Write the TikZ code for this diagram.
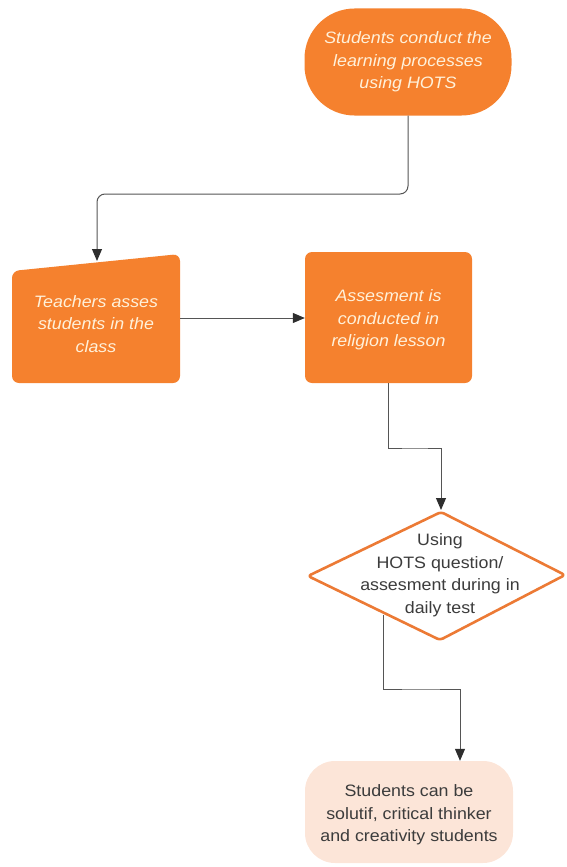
\documentclass[tikz,border=0pt]{standalone}
\usepackage{fontspec}
\setmainfont{Liberation Sans}[FakeStretch=1.08]
\usetikzlibrary{arrows.meta}
\definecolor{orng}{HTML}{F5812E}
\definecolor{dorng}{HTML}{EC7A35}
\definecolor{txtw}{HTML}{FFF1DA}
\definecolor{peach}{HTML}{FCE5D8}
\definecolor{dgray}{HTML}{3C3C3C}
\definecolor{lnk}{HTML}{555555}
\definecolor{tipc}{HTML}{2E2E2E}
\newcommand{\fs}{\fontsize{16.5}{22.5}\selectfont}
\begin{document}
\begin{tikzpicture}[x=1pt,y=-1pt,
  orangebox/.style={fill=orng, draw=none, text=txtw, font=\fs\itshape, align=center, inner sep=0pt},
  orangetext/.style={text=txtw, font=\fs\itshape, align=center, inner sep=0pt},
  darktext/.style={text=dgray, font=\fs, align=center, inner sep=0pt},
  arr/.style={draw=lnk, line width=1pt, -{Triangle[width=10pt,length=12pt,fill=tipc,color=tipc]}}]
\useasboundingbox (0,0) rectangle (567,867);
% start terminator
\node[orangebox, rounded corners=50pt, minimum width=207pt, minimum height=107pt] (start) at (408,62) {Students conduct the\\learning processes\\using HOTS};
% manual input shape
\fill[orng, rounded corners=7pt] (12,271) -- (180,254) -- (180,383) -- (12,383) -- cycle;
\node[orangetext] (teach) at (96,324) {Teachers asses\\students in the\\class};
\coordinate (teachtop) at (97,261);
\coordinate (teachright) at (180,318);
% process box
\node[orangebox, rounded corners=7pt, minimum width=167pt, minimum height=131pt] (assess) at (388.5,317.5) {};
\node[orangetext] (assesstext) at (388.5,320) {Assesment is\\conducted in\\religion lesson};
% decision diamond
\draw[draw=dorng, line width=2.6pt, fill=white, line join=round, rounded corners=3pt] (308,576) -- (441,512) -- (565,575) -- (440,640) -- cycle;
\node[darktext] (decide) at (440,575) {Using\\HOTS question/\\assesment during in\\daily test};
\coordinate (dtop) at (441,510);
\coordinate (dout) at (383,615);
% end terminator
\node[fill=peach, rounded corners=30pt, minimum width=208pt, minimum height=102pt, inner sep=0pt] (final) at (409,812) {};
\node[darktext] (finaltext) at (409,815) {Students can be\\solutif, critical thinker\\and creativity students};
% connectors
\draw[arr, rounded corners=8pt] (start.south) |- (250,194) -| (teachtop);
\draw[arr] (teachright) -- (assess.west |- teachright);
\draw[arr] (assess.south) |- (415,448) -| (dtop);
\draw[arr] (dout) |- (420,689) -| (final.north -| 460,0);
\end{tikzpicture}
\end{document}
